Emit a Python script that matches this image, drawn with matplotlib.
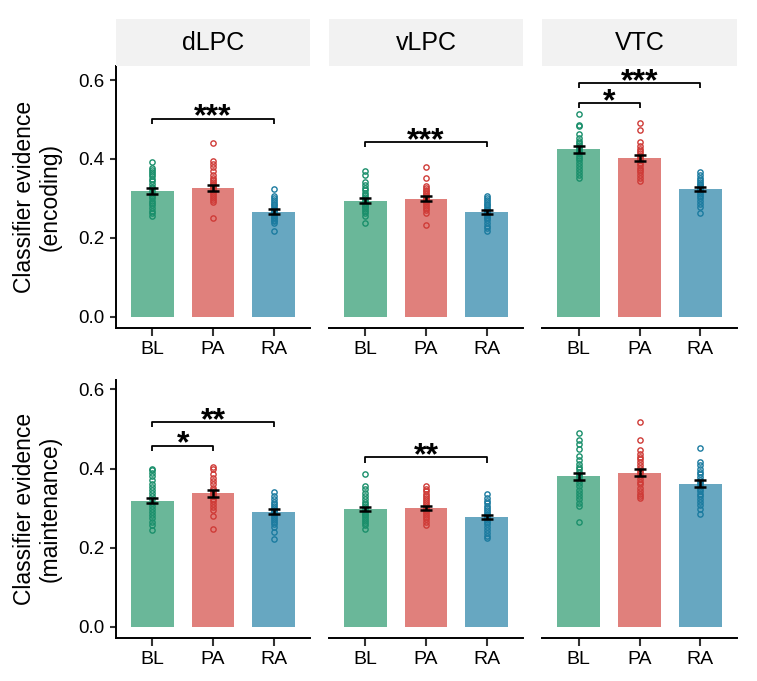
import matplotlib
matplotlib.use('Agg')
import matplotlib.pyplot as plt
from matplotlib.patches import Rectangle

plt.rcParams['font.family'] = ['Liberation Sans', 'DejaVu Sans']

W, H = 757, 681

regions = ['dLPC', 'vLPC', 'VTC']
conditions = ['BL', 'PA', 'RA']
phase_labels = ['Classifier evidence\n(encoding)', 'Classifier evidence\n(maintenance)']
y_ticks = [0.0, 0.2, 0.4, 0.6]
y_tick_labels = ['0.0', '0.2', '0.4', '0.6']

bar_colors = ['#6AB799', '#E0807C', '#67A7C1']
point_colors = ['#1A8F6B', '#CF3B37', '#1B7BA0']

# ---- bar means (BL, PA, RA) per region ----
enc_means = [[0.319, 0.326, 0.266],   # dLPC
             [0.294, 0.299, 0.266],   # vLPC
             [0.424, 0.402, 0.324]]   # VTC
enc_sems = [[0.007, 0.008, 0.006],
            [0.006, 0.006, 0.005],
            [0.008, 0.008, 0.006]]
mnt_means = [[0.319, 0.337, 0.291],
             [0.298, 0.300, 0.278],
             [0.380, 0.390, 0.362]]
mnt_sems = [[0.007, 0.008, 0.006],
            [0.006, 0.005, 0.005],
            [0.010, 0.010, 0.009]]

# ---- individual subject points ----
enc_dLPC_BL = [0.391, 0.378, 0.372, 0.368, 0.362, 0.356, 0.350, 0.343, 0.336, 0.330, 0.325,
               0.318, 0.312, 0.306, 0.300, 0.294, 0.288, 0.282, 0.276, 0.268, 0.262, 0.255]
enc_dLPC_PA = [0.440, 0.394, 0.387, 0.379, 0.369, 0.360, 0.352, 0.346, 0.341, 0.337, 0.333,
               0.329, 0.325, 0.321, 0.317, 0.312, 0.307, 0.302, 0.297, 0.292, 0.249]
enc_dLPC_RA = [0.323, 0.305, 0.300, 0.295, 0.290, 0.286, 0.282, 0.278, 0.274, 0.270, 0.266,
               0.262, 0.258, 0.254, 0.250, 0.246, 0.242, 0.238, 0.217]
enc_vLPC_BL = [0.369, 0.360, 0.342, 0.334, 0.327, 0.320, 0.314, 0.308, 0.303, 0.298, 0.293,
               0.289, 0.285, 0.281, 0.277, 0.272, 0.267, 0.262, 0.256, 0.238]
enc_vLPC_PA = [0.379, 0.352, 0.332, 0.327, 0.322, 0.318, 0.314, 0.310, 0.306, 0.302, 0.298,
               0.294, 0.290, 0.286, 0.281, 0.276, 0.270, 0.264, 0.233]
enc_vLPC_RA = [0.306, 0.300, 0.295, 0.290, 0.286, 0.282, 0.278, 0.274, 0.270, 0.266, 0.262,
               0.258, 0.254, 0.249, 0.244, 0.238, 0.231, 0.224, 0.217]
enc_VTC_BL = [0.514, 0.486, 0.483, 0.463, 0.453, 0.446, 0.440, 0.435, 0.430, 0.425, 0.420,
              0.414, 0.408, 0.402, 0.396, 0.389, 0.382, 0.374, 0.366, 0.358, 0.351]
enc_VTC_PA = [0.490, 0.473, 0.444, 0.432, 0.425, 0.419, 0.414, 0.408, 0.402, 0.396, 0.390,
              0.384, 0.378, 0.372, 0.366, 0.360, 0.352, 0.344]
enc_VTC_RA = [0.366, 0.358, 0.352, 0.347, 0.342, 0.337, 0.333, 0.329, 0.325, 0.321, 0.317,
              0.312, 0.306, 0.300, 0.294, 0.286, 0.278, 0.264]

mnt_dLPC_BL = [0.400, 0.396, 0.389, 0.381, 0.372, 0.362, 0.354, 0.345, 0.337, 0.330, 0.322,
               0.314, 0.306, 0.298, 0.290, 0.282, 0.274, 0.266, 0.257, 0.245]
mnt_dLPC_PA = [0.404, 0.400, 0.386, 0.376, 0.368, 0.360, 0.352, 0.345, 0.340, 0.335, 0.330,
               0.324, 0.318, 0.311, 0.304, 0.296, 0.279, 0.246]
mnt_dLPC_RA = [0.341, 0.330, 0.322, 0.316, 0.310, 0.305, 0.300, 0.296, 0.292, 0.288, 0.284,
               0.280, 0.276, 0.271, 0.266, 0.260, 0.253, 0.240, 0.223]
mnt_vLPC_BL = [0.387, 0.356, 0.349, 0.338, 0.330, 0.322, 0.316, 0.310, 0.305, 0.300, 0.295,
               0.290, 0.286, 0.282, 0.278, 0.273, 0.268, 0.262, 0.256, 0.247]
mnt_vLPC_PA = [0.355, 0.348, 0.342, 0.336, 0.330, 0.325, 0.320, 0.315, 0.310, 0.305, 0.300,
               0.296, 0.292, 0.288, 0.283, 0.278, 0.272, 0.265, 0.257]
mnt_vLPC_RA = [0.336, 0.325, 0.318, 0.312, 0.306, 0.300, 0.295, 0.290, 0.286, 0.282, 0.278,
               0.274, 0.270, 0.265, 0.259, 0.252, 0.244, 0.236, 0.229, 0.225]
mnt_VTC_BL = [0.490, 0.471, 0.462, 0.450, 0.432, 0.421, 0.412, 0.405, 0.398, 0.391, 0.384,
              0.378, 0.370, 0.363, 0.355, 0.346, 0.338, 0.330, 0.322, 0.313, 0.305, 0.264]
mnt_VTC_PA = [0.517, 0.473, 0.448, 0.436, 0.430, 0.423, 0.416, 0.409, 0.402, 0.395, 0.388,
              0.381, 0.374, 0.367, 0.360, 0.352, 0.344, 0.336, 0.330, 0.326]
mnt_VTC_RA = [0.451, 0.416, 0.408, 0.400, 0.392, 0.385, 0.378, 0.372, 0.366, 0.360, 0.354,
              0.348, 0.342, 0.336, 0.330, 0.323, 0.316, 0.308, 0.297, 0.284]

enc_points = [[enc_dLPC_BL, enc_dLPC_PA, enc_dLPC_RA],
              [enc_vLPC_BL, enc_vLPC_PA, enc_vLPC_RA],
              [enc_VTC_BL, enc_VTC_PA, enc_VTC_RA]]
mnt_points = [[mnt_dLPC_BL, mnt_dLPC_PA, mnt_dLPC_RA],
              [mnt_vLPC_BL, mnt_vLPC_PA, mnt_vLPC_RA],
              [mnt_VTC_BL, mnt_VTC_PA, mnt_VTC_RA]]

# ---- significance brackets ----
sig_row = [0, 0, 0, 0, 1, 1, 1]
sig_col = [0, 1, 2, 2, 0, 0, 1]
sig_from = [0, 0, 0, 0, 0, 0, 0]
sig_to = [2, 2, 2, 1, 2, 1, 2]
sig_y = [0.502, 0.442, 0.592, 0.541, 0.517, 0.458, 0.428]
sig_label = ['***', '***', '***', '*', '**', '*', '**']

# ---- layout (pixels) ----
col_x = [(116, 310), (329, 523), (542, 737)]
row_y = [(66, 328), (380, 638)]
row_ylim = [(-0.0286, 0.6355), (-0.0286, 0.624)]
strip_y = (19, 66)

fig = plt.figure(figsize=(W / 100, H / 100), dpi=100)

axes = {}
for r in range(2):
    means = enc_means if r == 0 else mnt_means
    sems = enc_sems if r == 0 else mnt_sems
    pts = enc_points if r == 0 else mnt_points
    for c in range(3):
        x0, x1 = col_x[c]
        y0, y1 = row_y[r]
        ax = fig.add_axes([x0 / W, 1 - y1 / H, (x1 - x0) / W, (y1 - y0) / H])
        axes[(r, c)] = ax
        xs = [1, 2, 3]
        ax.bar(xs, means[c], width=0.7, color=bar_colors, zorder=1)
        for k in range(3):
            ax.plot([xs[k]] * len(pts[c][k]), pts[c][k], 'o', mfc='none',
                    mec=point_colors[k], ms=3.8, mew=1.0, zorder=2)
        ax.errorbar(xs, means[c], yerr=sems[c], fmt='none', ecolor='black',
                    elinewidth=1.8, capsize=4.6, capthick=1.8, zorder=3)
        ax.set_xlim(0.4, 3.6)
        ax.set_ylim(*row_ylim[r])
        ax.set_xticks(xs)
        ax.set_xticklabels(conditions)
        for s in ['top', 'right']:
            ax.spines[s].set_visible(False)
        ax.spines['bottom'].set_linewidth(1.4)
        ax.spines['left'].set_linewidth(1.4)
        ax.tick_params(axis='x', length=5.5, width=1.5, color='#333333',
                       labelsize=14, pad=4)
        if c == 0:
            ax.set_yticks(y_ticks)
            ax.set_yticklabels(y_tick_labels)
            ax.tick_params(axis='y', length=4.5, width=1.5, color='#333333',
                           labelsize=13.5, pad=4)
        else:
            ax.spines['left'].set_visible(False)
            ax.set_yticks([])
        ax.patch.set_alpha(0)

# significance brackets
d = 0.0127
for i in range(len(sig_label)):
    ax = axes[(sig_row[i], sig_col[i])]
    xa = sig_from[i] + 1
    xb = sig_to[i] + 1
    y = sig_y[i]
    ax.plot([xa, xa, xb, xb], [y - d, y, y, y - d], color='black', lw=1.3,
            zorder=4, solid_capstyle='butt')
    ax.annotate(sig_label[i], xy=((xa + xb) / 2, y), xytext=(0, -5),
                textcoords='offset points', ha='center', va='baseline',
                fontsize=23, fontweight='bold', zorder=5)

# facet strips
for c in range(3):
    x0, x1 = col_x[c]
    fig.patches.append(Rectangle((x0 / W, 1 - strip_y[1] / H), (x1 - x0) / W,
                                 (strip_y[1] - strip_y[0]) / H,
                                 transform=fig.transFigure, facecolor='#F2F2F2',
                                 edgecolor='none'))
    fig.text((x0 + x1) / 2 / W, 1 - (strip_y[0] + strip_y[1]) / 2 / H, regions[c],
             ha='center', va='center', fontsize=18)

# y labels
for r in range(2):
    y0, y1 = row_y[r]
    fig.text(37 / W, 1 - (y0 + y1) / 2 / H, phase_labels[r], rotation=90,
             ha='center', va='center', fontsize=16.5, multialignment='center',
             linespacing=1.15)

fig.savefig('out.png', dpi=100)
